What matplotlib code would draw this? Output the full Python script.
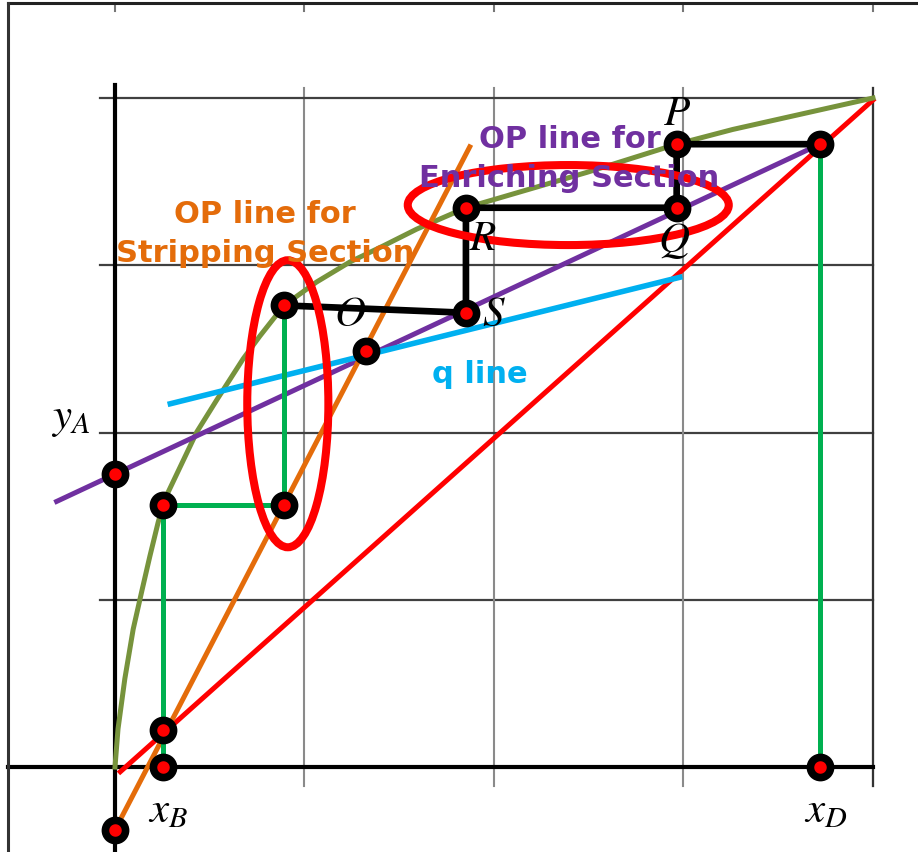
import matplotlib.pyplot as plt
import numpy as np
from matplotlib.patches import Ellipse
from matplotlib.lines import Line2D

plt.rcParams['mathtext.fontset'] = 'stix'

# equilibrium curve (x, y mole fractions)
eq_x = [0, 0.004, 0.013, 0.024, 0.036, 0.046, 0.057, 0.066, 0.108,
        0.135, 0.169, 0.191, 0.223, 0.266, 0.310, 0.354, 0.398, 0.463,
        0.623, 0.741, 0.815, 1.0]
eq_y = [0, 0.057, 0.132, 0.206, 0.266, 0.315, 0.366, 0.401, 0.501,
        0.550, 0.610, 0.644, 0.690, 0.725, 0.755, 0.779, 0.804, 0.836,
        0.889, 0.931, 0.953, 1.0]

# straight lines (end points)
diag_x = [0.007, 1.0]
diag_y = [-0.007, 0.997]
enrich_x = [-0.077, 0.930]
enrich_y = [0.397, 0.931]
strip_x = [0.0, 0.468]
strip_y = [-0.094, 0.927]
q_x = [0.073, 0.745]
q_y = [0.543, 0.732]

# stage construction
green_top_x = [0.930, 0.930]
green_top_y = [0.0, 0.931]
black_x = [0.930, 0.741, 0.741, 0.463, 0.463, 0.223]
black_y = [0.931, 0.931, 0.836, 0.836, 0.679, 0.690]
green_low_x = [0.223, 0.223, 0.063, 0.063]
green_low_y = [0.690, 0.392, 0.392, 0.0]

# marked points
pts_x = [0.930, 0.930, 0.741, 0.741, 0.463, 0.463, 0.223, 0.331,
         0.223, 0.063, 0.063, 0.063, 0.0, 0.0]
pts_y = [0.0, 0.931, 0.931, 0.836, 0.836, 0.679, 0.690, 0.622,
         0.392, 0.392, 0.055, 0.0, 0.438, -0.094]

grid_vals = [0.25, 0.5, 0.75, 1.0]

fig = plt.figure(figsize=(9.18, 8.53), dpi=100)
ax = fig.add_axes([0, 0, 1, 1])
ax.set_xlim(-0.1517, 1.0594)
ax.set_ylim(-0.127, 1.148)
ax.axis('off')

# outer frame (top and left)
fig.add_artist(Line2D([0.0087, 1.0], [0.9953, 0.9953], color='#222222', lw=2.2))
fig.add_artist(Line2D([0.0087, 0.0087], [0.9953, 0.0], color='#333333', lw=2.2))

# grid
for g in grid_vals:
    ax.plot([g, g], [-0.028, 1.015], color='#8a8a8a', lw=1.5, zorder=1)
    ax.plot([-0.02, 1.0], [g, g], color='#404040', lw=1.6, zorder=1)
for g in [0] + grid_vals:
    ax.plot([g, g], [1.130, 1.141], color='#777777', lw=1.5, zorder=1)
ax.plot([1.0, 1.0], [-0.028, 1.015], color='#333333', lw=1.6, zorder=1)

# axes
ax.plot([0, 0], [-0.127, 1.019], color='black', lw=3, zorder=2)
ax.plot([-0.141, 1.0], [0, 0], color='black', lw=3, zorder=2)

# lines
ax.plot(diag_x, diag_y, color='#FF0000', lw=3.6, zorder=3)
ax.plot(eq_x, eq_y, color='#77933C', lw=3.6, zorder=3, solid_joinstyle='round')
ax.plot(enrich_x, enrich_y, color='#7030A0', lw=3.6, zorder=3)
ax.plot(strip_x, strip_y, color='#E46C0A', lw=3.6, zorder=3)
ax.plot(q_x, q_y, color='#00B0F0', lw=4, zorder=3)

# stages
ax.plot(green_top_x, green_top_y, color='#00B050', lw=3.6, zorder=4)
ax.plot(green_low_x, green_low_y, color='#00B050', lw=3.6, zorder=4)
ax.plot(black_x, black_y, color='black', lw=4.8, zorder=4)

# highlight ellipses
ax.add_patch(Ellipse((0.228, 0.543), 0.107, 0.429, fill=False,
                     ec='#FF0000', lw=5.8, zorder=5))
ax.add_patch(Ellipse((0.598, 0.840), 0.4235, 0.1196, fill=False,
                     ec='#FF0000', lw=5.8, zorder=5))

ax.plot(pts_x, pts_y, 'o', ms=14.5, mew=5.5, mfc='#FF0000', mec='black',
        zorder=6, clip_on=False)

# labels
bold = dict(fontsize=22, fontweight='bold', ha='center', va='baseline',
            zorder=7, family='DejaVu Sans')
ax.text(0.198, 0.815, 'OP line for', color='#E46C0A', **bold)
ax.text(0.198, 0.756, 'Stripping Section', color='#E46C0A', **bold)
ax.text(0.600, 0.927, 'OP line for', color='#7030A0', **bold)
ax.text(0.599, 0.868, 'Enriching Section', color='#7030A0', **bold)
ax.text(0.4815, 0.575, 'q line', color='#00B0F0', **bold)

lab = dict(fontsize=31, ha='center', va='center', zorder=7)
ax.text(0.741, 0.979, r'$P$', **lab)
ax.text(0.737, 0.789, r'$Q$', **lab)
ax.text(0.4855, 0.792, r'$R$', **lab)
ax.text(0.500, 0.679, r'$S$', **lab)
ax.text(0.310, 0.679, r'$O$', **lab)
ax.text(-0.059, 0.523, r'$y_A$', **lab)
ax.text(0.070, -0.063, r'$x_B$', **lab)
ax.text(0.938, -0.063, r'$x_D$', **lab)

fig.savefig('out.png', dpi=100)
